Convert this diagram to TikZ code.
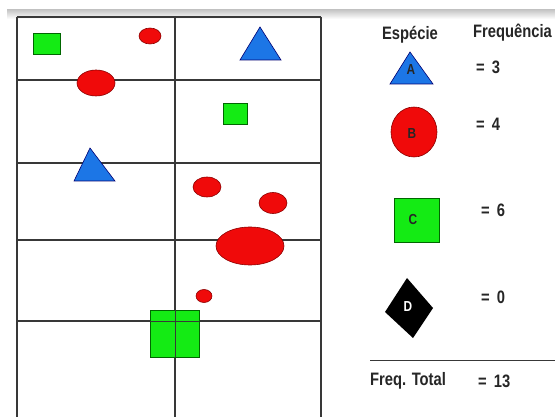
\documentclass[tikz,border=0pt]{standalone}
\usepackage{fontspec}
\setmainfont{Liberation Sans}[FakeStretch=0.82]
\usepackage{tikz}
\usepackage{xcolor}
\usetikzlibrary{positioning,calc}
\definecolor{rule}{gray}{0.22}
\definecolor{spgreen}{RGB}{20,235,20}
\definecolor{spred}{RGB}{240,10,10}
\definecolor{spblue}{RGB}{28,118,230}
\newcommand{\freqeq}[1]{=\hspace{7pt}#1}

\begin{document}
\begin{tikzpicture}[x=1pt,y=-1pt,
  gridline/.style={draw=rule,line width=1.1pt},
  sqr/.style={fill=spgreen,draw=green!40!black,line width=0.6pt},
  ell/.style={fill=spred,draw=red!55!black,line width=0.6pt},
  tri/.style={fill=spblue,draw=blue!45!black,line width=0.6pt},
  txt/.style={font=\fontsize{18}{20}\selectfont\bfseries,inner sep=0pt,text=black!85},
  lett/.style={font=\fontsize{14.5}{16}\selectfont\bfseries,inner sep=0pt,text=black!85}]
\useasboundingbox (0,0) rectangle (555,417);
\fill[white] (0,0) rectangle (555,417);
\shade[top color=black!22,bottom color=white] (7,10) rectangle (555,19);
% quadrats
\begin{scope}
\draw[gridline] (17,17)--(321,17);
\draw[gridline] (17,17)--(17,417);
\draw[gridline] (175,17)--(175,417);
\draw[gridline] (321,17)--(321,417);
\foreach \y in {80,163,240,321}
  \draw[gridline] (17,\y)--(322,\y);
\end{scope}
% individuals
\draw[sqr] (33,33) rectangle (60,54);
\draw[ell] (150,36) ellipse (11 and 8);
\draw[tri] (260,27)--(281,60)--(240,60)--cycle;
\draw[ell] (96,83) ellipse (19 and 13);
\draw[sqr] (223,103) rectangle (247,124);
\draw[tri] (90,148)--(115,181)--(74,181)--cycle;
\draw[ell] (207,187) ellipse (14 and 10);
\draw[ell] (273,203) ellipse (14 and 10.5);
\draw[ell] (250,246) ellipse (34 and 19);
\draw[ell] (204,296) ellipse (8 and 6.5);
\draw[sqr] (150,310) rectangle (199,357);
\draw[gridline,line width=0.8pt] (175,310)--(175,357) (150,321)--(199,321);
% legend
\node[txt] (esp) at (410,35) {Espécie};
\node[txt,anchor=west] (freq) at (473,33) {Frequência};
\draw[tri] (410,52)--(433,84)--(390,84)--cycle;
\node[lett] (A) at (411,70) {A};
\node[txt,anchor=west] (fa) at (476,67) {\freqeq{3}};
\draw[ell] (414,132) ellipse (23 and 25);
\node[lett] (B) at (412,134) {B};
\node[txt,anchor=west] (fb) at (476,124) {\freqeq{4}};
\draw[sqr] (394,198) rectangle (439,242);
\node[lett] (C) at (413,220) {C};
\node[txt,anchor=west] (fc) at (481,210) {\freqeq{6}};
\fill (407,278)--(433,308)--(413,338)--(385,312)--cycle;
\node[lett,text=white] (D) at (408,307) {D};
\node[txt,anchor=west] (fd) at (481,297) {\freqeq{0}};
\draw[draw=rule,line width=0.9pt] (370,360)--(555,360);
\node[txt,anchor=west] (tot) at (370,381) {Freq. Total};
\node[txt,anchor=west] (ft) at (478,381) {\freqeq{13}};
\end{tikzpicture}
\end{document}
